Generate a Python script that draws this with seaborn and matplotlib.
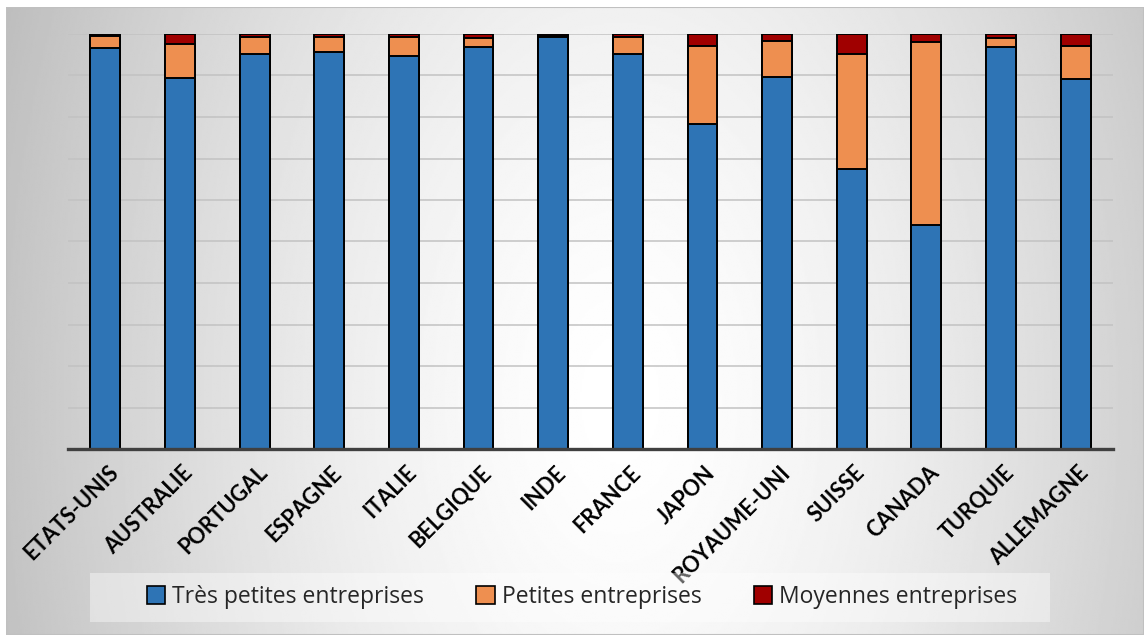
import numpy as np
import pandas as pd
import matplotlib
matplotlib.use("Agg")
import matplotlib.pyplot as plt
import matplotlib.transforms as mtransforms
import seaborn as sns
from matplotlib.patches import Rectangle, Patch

# Share of firms by size class, per country (%)
countries = ["ETATS-UNIS", "AUSTRALIE", "PORTUGAL", "ESPAGNE", "ITALIE", "BELGIQUE", "INDE",
             "FRANCE", "JAPON", "ROYAUME-UNI", "SUISSE", "CANADA", "TURQUIE", "ALLEMAGNE"]
tres_petites = [96.6, 89.3, 95.3, 95.7, 94.8, 96.8, 99.2, 95.2, 78.3, 89.6, 67.5, 54.0, 96.9, 89.2]
petites = [3.0, 8.3, 3.9, 3.5, 4.4, 2.3, 0.2, 4.0, 18.8, 8.7, 27.8, 44.1, 2.2, 8.0]
moyennes = [0.4, 2.4, 0.8, 0.8, 0.8, 0.9, 0.6, 0.8, 2.9, 1.7, 4.7, 1.9, 0.9, 2.8]
series_labels = ["Très petites entreprises", "Petites entreprises", "Moyennes entreprises"]
colors = ["#2E74B5", "#EE8F50", "#A00000"]

df = pd.DataFrame({"pays": countries, "tpe": tres_petites, "pe": petites, "me": moyennes})
df["c1"] = df["tpe"]
df["c2"] = df["tpe"] + df["pe"]
df["c3"] = df["tpe"] + df["pe"] + df["me"]

sns.set_style("white")
plt.rcParams["font.family"] = ["Open Sans", "DejaVu Sans"]

FW, FH = 1144, 635
fig = plt.figure(figsize=(FW / 100, FH / 100), dpi=100, facecolor="white")

# Soft radial grey background of the chart area
bg = fig.add_axes([6 / FW, 0, 1 - 6 / FW, 1 - 7 / FH], zorder=-10)
xs = np.linspace(6, FW, 600)
ys = np.linspace(7, FH, 340)
X, Y = np.meshgrid(xs, ys)
d = np.sqrt(((X - 620) / 560) ** 2 + ((Y - 400) / 900) ** 2)
v = 1 - 0.2 * np.clip(d, 0, 1.3) ** 1.5
bg.imshow(v, cmap="gray", vmin=0, vmax=1, aspect="auto", origin="upper",
          interpolation="bilinear", extent=[0, 1, 0, 1])
bg.set_xlim(0, 1)
bg.set_ylim(0, 1)
bg.axis("off")
bg.add_patch(Rectangle((0, 0), 1, 1, transform=bg.transAxes, fill=False,
                       edgecolor="#c0c0c0", lw=1.5))

ax = fig.add_axes([68 / FW, 1 - 449 / FH, 1045 / FW, 415 / FH])
ax.patch.set_alpha(0)

# Stacked bars drawn as cumulative layers, tallest first
for col, color in zip(["c3", "c2", "c1"], colors[::-1]):
    sns.barplot(data=df, x="pays", y=col, color=color, saturation=1, width=0.4,
                edgecolor="black", linewidth=1.4, ax=ax, zorder=3)

ax.set_ylim(0, 100)
ax.set_xlim(-0.5, len(countries) - 0.5)
ax.set_yticks(np.arange(0, 101, 10))
ax.set_yticklabels([])
ax.yaxis.grid(True, color="#c2c2c2", lw=1.1, zorder=0)
ax.set_axisbelow(True)
ax.set_xlabel("")
ax.set_ylabel("")
for s in ["left", "right", "top"]:
    ax.spines[s].set_visible(False)
ax.spines["bottom"].set_color("#404040")
ax.spines["bottom"].set_linewidth(2.4)
ax.spines["bottom"].set_zorder(5)
ax.tick_params(axis="both", length=0)
ax.tick_params(axis="x", pad=5)
ax.set_xticks(range(len(countries)))
ax.set_xticklabels(countries, rotation=45, ha="right", rotation_mode="anchor",
                   fontsize=15.5, fontweight="bold", family=["Lato", "DejaVu Sans"],
                   color="black")
shift = mtransforms.ScaledTranslation(2 / 100, -6 / 100, fig.dpi_scale_trans)
for lbl in ax.get_xticklabels():
    lbl.set_transform(lbl.get_transform() + shift)

# Legend panel
fig.patches.append(Rectangle((90 / FW, 1 - 622 / FH), 960 / FW, 49 / FH,
                             transform=fig.transFigure, facecolor="white",
                             alpha=0.4, edgecolor="none", zorder=2))
handles = [Patch(facecolor=c, edgecolor="black", lw=1.2) for c in colors]
leg = fig.legend(handles, series_labels, loc="center",
                 bbox_to_anchor=(582 / FW, 1 - 597 / FH), ncol=3, frameon=False,
                 fontsize=16.5, handlelength=0.8, handleheight=0.8,
                 handletextpad=0.3, columnspacing=2.3)
leg.set_zorder(5)
for t in leg.get_texts():
    t.set_color("#262626")

fig.savefig("out.png", dpi=100, facecolor="white")
